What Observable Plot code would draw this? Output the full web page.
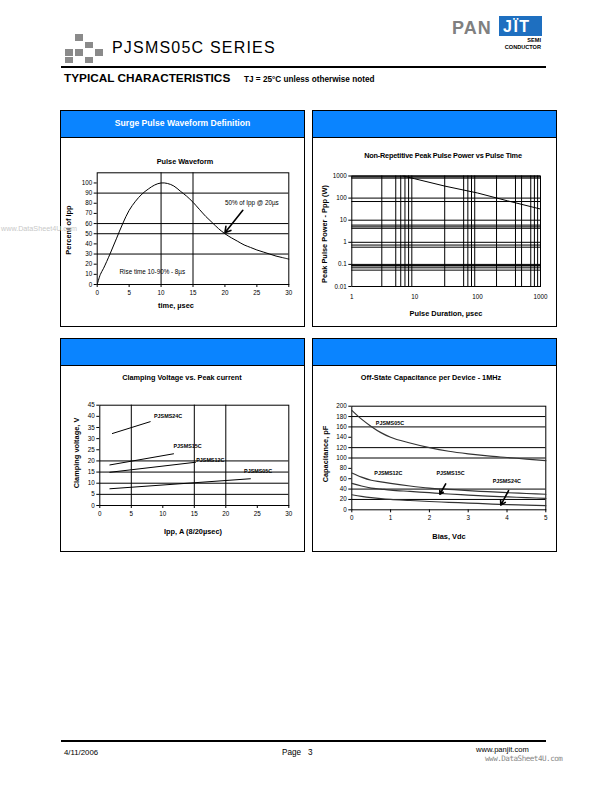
<!DOCTYPE html>
<html><head><meta charset="utf-8">
<script src="https://cdn.jsdelivr.net/npm/d3@7"></script>
<script src="https://cdn.jsdelivr.net/npm/@observablehq/plot@0.6"></script>
<style>
html,body{margin:0;padding:0;background:#fff;}
#page{position:relative;width:612px;height:792px;overflow:hidden;font-family:"Liberation Sans",Arial,sans-serif;color:#000;background:#fff;}
.abs{position:absolute;white-space:nowrap;line-height:1;}
.c{transform:translate(-50%,-50%);}
.panel{position:absolute;border:1px solid #000;box-sizing:border-box;background:#fff;}
.phead{position:absolute;left:0;top:0;right:0;height:26px;background:#0a84ff;border-bottom:1px solid #000;color:#fff;font-weight:bold;font-size:8.6px;text-align:center;line-height:24px;}
.ctitle{font-weight:bold;font-size:7.3px;}
.alabel{font-weight:bold;font-size:7.4px;}
.ylabel{font-weight:bold;font-size:7.4px;transform:translate(-50%,-50%) rotate(-90deg);}
.chart{position:absolute;}
.sq{position:absolute;width:8px;height:6.5px;background:#8a8a8a;}
</style></head><body><div id="page"></div>
<script>
// ---------- DATA ----------
// Pulse waveform (time in µs, % of Ipp)
const pulseTime = [0,0.5,1,2,3,4,5,6,7,8,9,10,11,12,13,14,15,16,17,18,19,20,21,22,23,24,25,26,27,28,29,30];
const pulsePct  = [0,10,16,30,45,60,73,82,89,94,98,100,99.5,97,92,87,81,74,67,61,55,50,46,42.5,39,36.5,34,32,30,28,26.5,25];
const pulseXTicks = [0,5,10,15,20,25,30];
const pulseYTicks = [0,10,20,30,40,50,60,70,80,90,100];
const pulseGridX = [10,15];
const pulseGridY = [30,50,60,90];
const pulseNoteText = ["50% of Ipp @ 20µs","Rise time 10-90% - 8µs"];
const pulseNoteX = [20,3.5];
const pulseNoteY = [80.5,12];
const pulseArrow = [{x1:22.8,y1:73,x2:20,y2:51}];

// Peak pulse power vs pulse duration
const pppTime  = [6.5,10,30,100,300,1000];
const pppPower = [1000,750,350,170,75,32];
const pppXTicks = [1,10,100,1000];
const pppYTicks = [0.01,0.1,1,10,100,1000];
const pppGridX = [3,5,6,7,8,9,30,60,70,80,90,200,400,500,700,800,900];
const pppGridY = [1000,900,800,100,70,10,6,5,4.3,1,0.75,0.6,0.1,0.09,0.085,0.07,0.055];

// Clamping voltage vs peak current
const clampSeries   = ["PJSMS24C","PJSMS15C","PJSMS12C","PJSMS05C"];
const clampIppStart = [2,1.6,1.6,1.6];
const clampIppEnd   = [8,11.7,15.2,23.9];
const clampVStart   = [32.3,18.2,14.9,7.5];
const clampVEnd     = [37.6,23.2,19.4,12.0];
const clampLabelX   = [8.6,11.7,15.3,22.9];
const clampLabelY   = [40.2,26.6,20.5,15.2];
const clampXTicks = [0,5,10,15,20,25,30];
const clampYTicks = [0,5,10,15,20,25,30,35,40,45];
const clampGridX = [5,15,20];
const clampGridY = [5,10,15,20];

// Off-state capacitance vs bias
const biasV = [0,0.25,0.5,0.75,1,1.5,2,2.5,3,3.5,4,4.5,5];
const cap05 = [192,175,161,149,140,129,120,113,108,104,101,98,95];
const cap12 = [71,63,57,54,51,46,42,39.5,37,35,33,31.5,30];
const cap15 = [51,46,42,40,38,35.5,33,30.5,28.5,26.5,25,23.5,22];
const cap24 = [29,26,23.5,21.5,20,18,16,14.5,13,11.5,10,9,8];
const capSeries = ["PJSMS05C","PJSMS12C","PJSMS15C","PJSMS24C"];
const capLabelX = [0.62,0.58,2.18,3.63];
const capLabelY = [168,70.7,71.4,55.2];
const capArrows = [{x1:2.42,y1:50,x2:2.27,y2:30},{x1:4.04,y1:37,x2:3.84,y2:9}];
const capXTicks = [0,1,2,3,4,5];
const capYTicks = [0,20,40,60,80,100,120,140,160,180,200];
const capGridY = [20,40,100,120,160,180];

// ---------- PAGE ----------
const page = document.getElementById("page");
function add(html){ page.insertAdjacentHTML("beforeend", html); }

// header squares
[[75,34],[85,41.5],[65,49],[75,49],[95,49],[65,56.5],[85,56.5]].forEach(([x,y])=>add(`<div class="sq" style="left:${x}px;top:${y}px"></div>`));
add(`<div class="abs" style="left:112px;top:40px;font-size:16px;letter-spacing:1.2px;">PJSMS05C SERIES</div>`);
add(`<div class="abs" style="left:452px;top:19px;font-size:18px;font-weight:bold;color:#808080;letter-spacing:1px;">PAN</div>`);
add(`<div class="abs" style="left:499px;top:16px;width:43px;height:20px;background:#1e6fc0;"></div>`);
add(`<div class="abs" style="left:503px;top:19px;font-size:16px;font-weight:bold;color:#fff;letter-spacing:1.5px;">JÏT</div>`);
add(`<div class="abs" style="left:480px;top:38px;width:61px;text-align:right;font-size:5.6px;font-weight:bold;">SEMI</div>`);
add(`<div class="abs" style="left:480px;top:45px;width:61px;text-align:right;font-size:5.6px;font-weight:bold;">CONDUCTOR</div>`);
add(`<div class="abs" style="left:61px;top:66px;width:485px;height:2px;background:#000;"></div>`);
add(`<div class="abs" style="left:64px;top:73px;font-size:11.8px;font-weight:bold;">TYPICAL CHARACTERISTICS</div>`);
add(`<div class="abs" style="left:244px;top:75.5px;font-size:8.2px;font-weight:bold;">TJ = 25°C unless otherwise noted</div>`);

// panels
add(`<div class="panel" style="left:60px;top:110px;width:245px;height:217px;"><div class="phead">Surge Pulse Waveform Definition</div></div>`);
add(`<div class="panel" style="left:312px;top:110px;width:245px;height:217px;"><div class="phead"></div></div>`);
add(`<div class="panel" style="left:60px;top:338px;width:245px;height:214px;"><div class="phead"></div></div>`);
add(`<div class="panel" style="left:312px;top:338px;width:245px;height:214px;"><div class="phead"></div></div>`);

// footer
add(`<div class="abs" style="left:61px;top:740px;width:485px;height:1.5px;background:#000;"></div>`);
add(`<div class="abs" style="left:64px;top:749px;font-size:7.8px;">4/11/2006</div>`);
add(`<div class="abs" style="left:282px;top:749px;font-size:8.2px;">Page&nbsp;&nbsp; 3</div>`);
add(`<div class="abs" style="left:476px;top:746px;font-size:7.6px;">www.panjit.com</div>`);
add(`<div class="abs" style="left:485px;top:755px;font-size:7.6px;color:#888;font-family:'DejaVu Sans Mono',monospace;letter-spacing:-0.5px;">www.DataSheet4U.com</div>`);

// ---------- CHARTS ----------
const baseStyle = {fontFamily:'"Liberation Sans", Arial, sans-serif', fontSize:"6.3px", color:"#000", background:"transparent", overflow:"visible"};
function place(svg, left, top){ svg.classList.add("chart"); svg.style.left = left+"px"; svg.style.top = top+"px"; page.appendChild(svg); }

// Top-left: pulse waveform
const pulseData = pulseTime.map((t,i)=>({t, v:pulsePct[i]}));
const pulseNotes = pulseNoteText.map((s,i)=>({s, x:pulseNoteX[i], y:pulseNoteY[i]}));
place(Plot.plot({
  width:245, height:190, marginLeft:36.7, marginRight:16.7, marginTop:35.3, marginBottom:43,
  style: baseStyle,
  x:{domain:[0,30]}, y:{domain:[0,110]},
  marks:[
    Plot.ruleY(pulseGridY, {stroke:"#000", strokeWidth:1}),
    Plot.ruleX(pulseGridX, {stroke:"#000", strokeWidth:1}),
    Plot.frame({stroke:"#000", strokeWidth:1}),
    Plot.axisX({ticks:pulseXTicks, tickSize:3, tickPadding:3, label:null}),
    Plot.axisY({ticks:pulseYTicks, tickSize:3, tickPadding:2, label:null}),
    Plot.line(pulseData, {x:"t", y:"v", stroke:"#000", strokeWidth:1, curve:"catmull-rom"}),
    Plot.arrow(pulseArrow, {x1:"x1", y1:"y1", x2:"x2", y2:"y2", stroke:"#000", strokeWidth:1.6, headLength:6}),
    Plot.text(pulseNotes, {x:"x", y:"y", text:"s", textAnchor:"start", fontSize:6.3})
  ]
}), 60, 137);
add(`<div class="abs c ctitle" style="left:185px;top:162px;">Pulse Waveform</div>`);
add(`<div class="abs c alabel" style="left:176px;top:306px;">time, µsec</div>`);
add(`<div class="abs ylabel" style="left:69px;top:230px;">Percent of Ipp</div>`);

// Top-right: peak pulse power
const pppData = pppTime.map((t,i)=>({t, p:pppPower[i]}));
place(Plot.plot({
  width:245, height:190, marginLeft:39.3, marginRight:17, marginTop:38.5, marginBottom:41,
  style: baseStyle,
  x:{type:"log", domain:[1,1000]}, y:{type:"log", domain:[0.01,1000]},
  marks:[
    Plot.ruleY(pppGridY, {stroke:"#000", strokeWidth:1}),
    Plot.ruleX(pppGridX, {stroke:"#000", strokeWidth:1}),
    Plot.frame({stroke:"#000", strokeWidth:1}),
    Plot.axisX({ticks:pppXTicks, tickFormat:d=>String(d), tickSize:0, tickPadding:8, label:null}),
    Plot.axisY({ticks:pppYTicks, tickFormat:d=>String(d), tickSize:3, tickPadding:2, label:null}),
    Plot.line(pppData, {x:"t", y:"p", stroke:"#000", strokeWidth:1})
  ]
}), 312, 137);
add(`<div class="abs c ctitle" style="left:443px;top:156px;letter-spacing:-0.2px;">Non-Repetitive Peak Pulse Power vs Pulse Time</div>`);
add(`<div class="abs c alabel" style="left:446px;top:314px;">Pulse Duration, µsec</div>`);
add(`<div class="abs ylabel" style="left:325px;top:234px;">Peak Pulse Power - Ppp (W)</div>`);

// Bottom-left: clamping voltage
const clampData = clampSeries.flatMap((s,i)=>[{s, ipp:clampIppStart[i], v:clampVStart[i]},{s, ipp:clampIppEnd[i], v:clampVEnd[i]}]);
const clampLabels = clampSeries.map((s,i)=>({s, x:clampLabelX[i], y:clampLabelY[i]}));
place(Plot.plot({
  width:245, height:187, marginLeft:39.3, marginRight:16.7, marginTop:39.7, marginBottom:47,
  style: baseStyle,
  x:{domain:[0,30]}, y:{domain:[0,45]},
  marks:[
    Plot.ruleY(clampGridY, {stroke:"#000", strokeWidth:1}),
    Plot.ruleX(clampGridX, {stroke:"#000", strokeWidth:1}),
    Plot.frame({stroke:"#000", strokeWidth:1}),
    Plot.axisX({ticks:clampXTicks, tickSize:3, tickPadding:3, label:null}),
    Plot.axisY({ticks:clampYTicks, tickSize:3, tickPadding:2, label:null}),
    Plot.line(clampData, {x:"ipp", y:"v", z:"s", stroke:"#000", strokeWidth:1}),
    Plot.text(clampLabels, {x:"x", y:"y", text:"s", textAnchor:"start", fontSize:5.4, fontWeight:"bold"})
  ]
}), 60, 365);
add(`<div class="abs c ctitle" style="left:182px;top:378px;">Clamping Voltage vs. Peak current</div>`);
add(`<div class="abs c alabel" style="left:193px;top:532px;">Ipp, A (8/20µsec)</div>`);
add(`<div class="abs ylabel" style="left:77px;top:453px;">Clamping voltage, V</div>`);

// Bottom-right: capacitance
const capCols = [cap05, cap12, cap15, cap24];
const capData = capSeries.flatMap((s,i)=>biasV.map((b,j)=>({s, b, c:capCols[i][j]})));
const capLabels = capSeries.map((s,i)=>({s, x:capLabelX[i], y:capLabelY[i]}));
place(Plot.plot({
  width:245, height:187, marginLeft:39.3, marginRight:11.7, marginTop:40.7, marginBottom:42.7,
  style: baseStyle,
  x:{domain:[0,5]}, y:{domain:[0,200]},
  marks:[
    Plot.ruleY(capGridY, {stroke:"#000", strokeWidth:1}),
    Plot.frame({stroke:"#000", strokeWidth:1}),
    Plot.axisX({ticks:capXTicks, tickFormat:d=>String(d), tickSize:3, tickPadding:3, label:null}),
    Plot.axisY({ticks:capYTicks, tickFormat:d=>String(d), tickSize:3, tickPadding:2, label:null}),
    Plot.line(capData, {x:"b", y:"c", z:"s", stroke:"#333", strokeWidth:1.2, curve:"monotone-x"}),
    Plot.arrow(capArrows, {x1:"x1", y1:"y1", x2:"x2", y2:"y2", stroke:"#000", strokeWidth:1.6, headLength:5}),
    Plot.text(capLabels, {x:"x", y:"y", text:"s", textAnchor:"start", fontSize:5.4, fontWeight:"bold"})
  ]
}), 312, 365);
add(`<div class="abs c ctitle" style="left:431px;top:378px;">Off-State Capacitance per Device - 1MHz</div>`);
add(`<div class="abs c alabel" style="left:449px;top:537px;">Bias, Vdc</div>`);
add(`<div class="abs ylabel" style="left:326px;top:454px;">Capacitance, pF</div>`);

// watermark (on top)
add(`<div class="abs" style="left:1px;top:225px;font-size:7.2px;color:#c8c8c8;z-index:5;">www.DataSheet4U.com</div>`);
</script></body></html>
